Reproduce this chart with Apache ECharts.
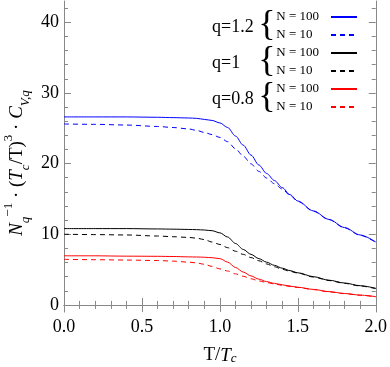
<!DOCTYPE html>
<html>
<head>
    <meta charset="utf-8">
    <script src="https://cdn.jsdelivr.net/npm/echarts@6/dist/echarts.min.js"></script>
    <style type="text/css">
        body { margin: 0; }
        #main { width: 390px; height: 367px; }
    </style>
</head>
<body>
    <div id="main"></div>
    <script>
        // T / Tc
        var tVals = [0, 0.2, 0.4, 0.6, 0.7, 0.8, 0.85, 0.9, 0.95, 1.0, 1.05, 1.1, 1.15, 1.2, 1.25,
            1.3, 1.35, 1.4, 1.45, 1.5, 1.6, 1.7, 1.8, 1.9, 2.0];
        // q=1.2
        var blue100 = [26.6, 26.6, 26.6, 26.55, 26.5, 26.45, 26.4, 26.25, 26.1, 25.75, 25.1, 23.9, 22.6, 21.2, 19.8,
            18.6, 17.6, 16.6, 15.6, 14.7, 13.3, 12.1, 10.95, 9.9, 8.9];
        var blue10 = [25.6, 25.55, 25.45, 25.25, 25.1, 24.9, 24.7, 24.4, 24.1, 23.7, 23.1, 22.1, 21.05, 19.95, 18.9,
            17.95, 17.15, 16.4, 15.5, 14.65, 13.25, 12.05, 10.9, 9.85, 8.85];
        // q=1
        var black100 = [10.8, 10.8, 10.8, 10.75, 10.72, 10.68, 10.65, 10.6, 10.5, 10.2, 9.6, 8.7, 7.85, 7.15, 6.55,
            6.05, 5.6, 5.2, 4.85, 4.55, 4.0, 3.5, 3.1, 2.72, 2.35];
        var black10 = [10.0, 9.95, 9.9, 9.75, 9.65, 9.55, 9.45, 9.25, 8.9, 8.55, 8.1, 7.6, 7.15, 6.7, 6.25,
            5.8, 5.4, 5.05, 4.75, 4.5, 3.95, 3.45, 3.05, 2.68, 2.3];
        // q=0.8
        var red100 = [6.95, 6.95, 6.9, 6.88, 6.85, 6.8, 6.78, 6.75, 6.68, 6.55, 6.05, 5.3, 4.65, 4.1, 3.65,
            3.3, 3.05, 2.85, 2.67, 2.5, 2.2, 1.88, 1.62, 1.39, 1.17];
        var red10 = [6.45, 6.4, 6.35, 6.28, 6.2, 6.05, 5.95, 5.75, 5.45, 5.1, 4.8, 4.4, 4.05, 3.7, 3.4,
            3.17, 2.97, 2.78, 2.62, 2.47, 2.17, 1.85, 1.6, 1.37, 1.15];

        var yMajor = [0, 10, 20, 30, 40];
        var yMinor = [2, 4, 6, 8, 12, 14, 16, 18, 22, 24, 26, 28, 32, 34, 36, 38, 42];
        var qLabels = ['q=1.2', 'q=1', 'q=0.8'];

        var serif = '"Liberation Serif", "DejaVu Serif", serif';
        var frame = '#888';

        function pairs(ys) {
            return tVals.map(function (t, i) { return [t, ys[i]]; });
        }

        function line(name, color, ys, dashed) {
            return {
                name: name,
                type: 'line',
                data: pairs(ys),
                smooth: 0.3,
                smoothMonotone: 'x',
                symbol: 'none',
                lineStyle: { color: color, width: 1, type: dashed ? [5, 4] : 'solid' },
                itemStyle: { color: color }
            };
        }

        var names = { b100: 'N = 100', b10: 'N = 10\u2007', k100: 'N = 100', k10: 'N = 10\u2007', r100: 'N = 100', r10: 'N = 10\u2007' };

        function xAx(pos, labels) {
            return {
                type: 'value', min: 0, max: 2, interval: 0.5, position: pos,
                axisLine: { show: true, lineStyle: { color: frame } },
                axisTick: { inside: true, length: 7, lineStyle: { color: frame } },
                minorTick: { show: true, splitNumber: 5, length: 4, lineStyle: { color: frame } },
                splitLine: { show: false },
                axisLabel: {
                    show: labels, margin: 6, fontFamily: serif, fontSize: 18, color: '#000',
                    formatter: function (v) { return v.toFixed(1); }
                }
            };
        }

        function yAx(pos, ticks, len, labels, lineShow) {
            return {
                type: 'value', min: -1, max: 43, position: pos,
                axisLine: { show: lineShow, lineStyle: { color: frame } },
                axisTick: { show: true, inside: true, length: len, customValues: ticks, lineStyle: { color: frame } },
                splitLine: { show: false },
                axisLabel: {
                    show: labels, customValues: ticks, margin: 5,
                    fontFamily: serif, fontSize: 18, color: '#000'
                }
            };
        }

        var braces = [0, 1, 2].map(function (i) {
            return {
                type: 'text', x: 267, y: 26 + i * 36,
                style: { text: '{', fontFamily: serif, fontSize: 36, fill: '#000', align: 'center', verticalAlign: 'middle' }
            };
        });
        var qText = qLabels.map(function (s, i) {
            return {
                type: 'text', x: 212, y: 27 + i * 36,
                style: { text: s, fontFamily: serif, fontSize: 18, fill: '#000', align: 'left', verticalAlign: 'middle' }
            };
        });

        var chart = echarts.init(document.getElementById('main'));
        chart.setOption({
            animation: false,
            grid: { left: 64, right: 14, top: 1, bottom: 55 },
            xAxis: [xAx('bottom', true), xAx('top', false)],
            yAxis: [
                yAx('left', yMajor, 7, true, true),
                yAx('left', yMinor, 4, false, false),
                yAx('right', yMajor, 7, false, true),
                yAx('right', yMinor, 4, false, false)
            ],
            legend: {
                orient: 'vertical', right: 32, top: 10, padding: 0,
                itemWidth: 26, itemHeight: 14, itemGap: 4, align: 'right',
                itemStyle: { opacity: 0 },
                textStyle: { fontFamily: serif, fontSize: 13, lineHeight: 14, color: '#000', padding: [0, 7, 0, 0] },
                formatter: function (n) { return names[n]; }
            },
            series: [
                line('b100', '#0000ff', blue100, false),
                line('b10', '#0000ff', blue10, true),
                line('k100', '#000000', black100, false),
                line('k10', '#000000', black10, true),
                line('r100', '#ff0000', red100, false),
                line('r10', '#ff0000', red10, true)
            ],
            graphic: braces.concat(qText).concat([
                {
                    type: 'text', x: 220, y: 353,
                    style: {
                        text: '{r|T/}{i|T}{sub|c}', align: 'center', verticalAlign: 'middle',
                        rich: {
                            r: { fontFamily: serif, fontSize: 19, fill: '#000', lineHeight: 24, verticalAlign: 'bottom' },
                            i: { fontFamily: serif, fontSize: 19, fontStyle: 'italic', fill: '#000', lineHeight: 24, verticalAlign: 'bottom' },
                            sub: { fontFamily: serif, fontSize: 13, fontStyle: 'italic', fill: '#000', lineHeight: 14, verticalAlign: 'bottom' }
                        }
                    }
                },
                {
                    type: 'text', x: 17, y: 163, rotation: Math.PI / 2,
                    style: {
                        text: '{i|N}{sub|q}{sup|\u22121}{r| \u00b7 (}{i|T}{sub|c}{r|/T)}{sup|3}{r| \u00b7 }{i|C}{sub|V,q}',
                        align: 'center', verticalAlign: 'middle',
                        rich: {
                            r: { fontFamily: serif, fontSize: 19, fill: '#000', lineHeight: 30, verticalAlign: 'middle' },
                            i: { fontFamily: serif, fontSize: 19, fontStyle: 'italic', fill: '#000', lineHeight: 30, verticalAlign: 'middle' },
                            sub: { fontFamily: serif, fontSize: 13, fontStyle: 'italic', fill: '#000', lineHeight: 13, verticalAlign: 'bottom' },
                            sup: { fontFamily: serif, fontSize: 13, fill: '#000', lineHeight: 13, verticalAlign: 'top' }
                        }
                    }
                }
            ])
        });
    </script>
</body>
</html>
